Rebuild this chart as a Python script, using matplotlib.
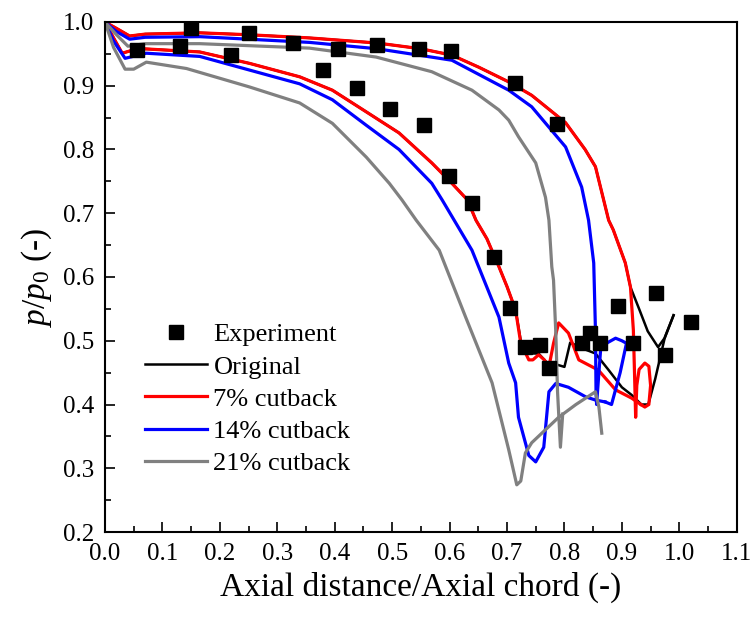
import numpy as np
import matplotlib
matplotlib.use("Agg")
import matplotlib.pyplot as plt
from matplotlib.ticker import MultipleLocator, FormatStrFormatter

plt.rcParams['font.family'] = ['Liberation Serif', 'DejaVu Serif']
plt.rcParams['mathtext.fontset'] = 'custom'
plt.rcParams['mathtext.rm'] = 'Liberation Serif'
plt.rcParams['mathtext.it'] = 'Liberation Serif:italic'

# Experiment (squares)
exp_x = [0.055, 0.13, 0.149, 0.22, 0.25, 0.327, 0.38, 0.405, 0.438, 0.474, 0.496,
         0.547, 0.556, 0.599, 0.603, 0.639, 0.677, 0.706, 0.714, 0.732, 0.758,
         0.773, 0.787, 0.83, 0.845, 0.862, 0.893, 0.92, 0.96, 0.975, 1.02]
exp_y = [0.956, 0.962, 0.991, 0.948, 0.983, 0.967, 0.925, 0.958, 0.896, 0.964, 0.863,
         0.958, 0.838, 0.758, 0.955, 0.716, 0.631, 0.551, 0.904, 0.49, 0.493,
         0.457, 0.84, 0.497, 0.512, 0.497, 0.555, 0.497, 0.575, 0.478, 0.53]

# Original (black) - pressure side incl. trailing edge, then suction side
orig_up_x = [0.0, 0.02, 0.043, 0.07, 0.165, 0.25, 0.356, 0.474, 0.55, 0.604, 0.651, 0.703,
             0.743, 0.802, 0.836, 0.854, 0.877, 0.885, 0.906, 0.915, 0.93, 0.945, 0.963,
             0.975, 0.99]
orig_up_y = [1.0, 0.99, 0.978, 0.981, 0.983, 0.98, 0.975, 0.967, 0.958, 0.948, 0.929, 0.906,
             0.885, 0.842, 0.80, 0.773, 0.689, 0.674, 0.622, 0.584, 0.55, 0.515, 0.49,
             0.505, 0.54]
orig_lo_x = [0.0, 0.015, 0.03, 0.045, 0.066, 0.165, 0.252, 0.339, 0.396, 0.455, 0.512, 0.569,
             0.604, 0.631, 0.646, 0.665, 0.686, 0.70, 0.715, 0.724, 0.738, 0.755, 0.77,
             0.785, 0.80, 0.81, 0.837, 0.854, 0.877, 0.90, 0.917, 0.934, 0.946, 0.958,
             0.975, 0.99]
orig_lo_y = [1.0, 0.975, 0.951, 0.955, 0.958, 0.953, 0.935, 0.914, 0.893, 0.859, 0.826, 0.779,
             0.747, 0.721, 0.689, 0.66, 0.616, 0.585, 0.548, 0.50, 0.48, 0.48, 0.465,
             0.463, 0.459, 0.497, 0.486, 0.48, 0.454, 0.427, 0.415, 0.40, 0.40, 0.44,
             0.506, 0.54]

# 7% cutback (red)
c7_up_x = [0.0, 0.02, 0.043, 0.07, 0.165, 0.25, 0.356, 0.474, 0.55, 0.604, 0.651, 0.703,
           0.743, 0.802, 0.836, 0.854, 0.877, 0.885, 0.906, 0.915, 0.92, 0.922, 0.924,
           0.926, 0.93, 0.94, 0.947, 0.95, 0.947, 0.94, 0.933]
c7_up_y = [1.0, 0.99, 0.978, 0.981, 0.983, 0.98, 0.975, 0.967, 0.958, 0.948, 0.929, 0.906,
           0.885, 0.842, 0.80, 0.773, 0.689, 0.674, 0.622, 0.584, 0.517, 0.45, 0.38,
           0.43, 0.455, 0.465, 0.46, 0.43, 0.40, 0.396, 0.40]
c7_lo_x = [0.0, 0.015, 0.03, 0.045, 0.066, 0.165, 0.252, 0.339, 0.396, 0.455, 0.512, 0.569,
           0.604, 0.631, 0.646, 0.665, 0.686, 0.70, 0.715, 0.724, 0.73, 0.738, 0.745, 0.755,
           0.765, 0.773, 0.781, 0.79, 0.807, 0.825, 0.859, 0.889, 0.917, 0.933]
c7_lo_y = [1.0, 0.975, 0.951, 0.955, 0.958, 0.953, 0.935, 0.914, 0.893, 0.859, 0.826, 0.779,
           0.747, 0.721, 0.689, 0.66, 0.616, 0.585, 0.548, 0.496, 0.485, 0.47, 0.47, 0.478,
           0.47, 0.459, 0.496, 0.528, 0.512, 0.47, 0.454, 0.423, 0.41, 0.40]

# 14% cutback (blue)
c14_up_x = [0.0, 0.02, 0.043, 0.07, 0.165, 0.356, 0.474, 0.604, 0.703, 0.743, 0.802, 0.83,
            0.842, 0.851, 0.854, 0.855, 0.856, 0.86, 0.863, 0.875, 0.889, 0.9, 0.908,
            0.897, 0.882, 0.871]
c14_up_y = [1.0, 0.985, 0.973, 0.976, 0.977, 0.968, 0.958, 0.94, 0.893, 0.867, 0.804, 0.741,
            0.689, 0.622, 0.517, 0.42, 0.40, 0.45, 0.486, 0.497, 0.504, 0.50, 0.496,
            0.45, 0.40, 0.404]
c14_lo_x = [0.0, 0.015, 0.035, 0.072, 0.165, 0.339, 0.396, 0.455, 0.512, 0.569, 0.587,
            0.639, 0.686, 0.703, 0.715, 0.72, 0.738, 0.75, 0.764, 0.773, 0.785, 0.807,
            0.837, 0.854, 0.871]
c14_lo_y = [1.0, 0.97, 0.943, 0.951, 0.946, 0.903, 0.878, 0.838, 0.80, 0.747, 0.721,
            0.642, 0.537, 0.465, 0.434, 0.38, 0.32, 0.31, 0.333, 0.42, 0.433, 0.427,
            0.412, 0.407, 0.404]

# 21% cutback (gray)
c21_up_x = [0.0, 0.02, 0.04, 0.07, 0.165, 0.356, 0.472, 0.569, 0.639, 0.686, 0.703, 0.72,
            0.75, 0.767, 0.773, 0.778, 0.781, 0.785, 0.788, 0.793, 0.797]
c21_up_y = [1.0, 0.98, 0.962, 0.966, 0.966, 0.959, 0.945, 0.922, 0.893, 0.862, 0.846, 0.82,
            0.779, 0.725, 0.689, 0.616, 0.595, 0.512, 0.42, 0.333, 0.385]
c21_lo_x = [0.0, 0.015, 0.035, 0.05, 0.072, 0.142, 0.252, 0.339, 0.396, 0.455, 0.495,
            0.517, 0.542, 0.582, 0.628, 0.674, 0.703, 0.717, 0.724, 0.732, 0.743, 0.79,
            0.82, 0.854, 0.86, 0.865]
c21_lo_y = [1.0, 0.96, 0.926, 0.926, 0.937, 0.927, 0.898, 0.873, 0.841, 0.788, 0.747,
            0.721, 0.689, 0.642, 0.537, 0.434, 0.329, 0.274, 0.28, 0.324, 0.34, 0.38,
            0.40, 0.42, 0.396, 0.355]

fig = plt.figure(figsize=(7.53, 6.21), dpi=100)
ax = fig.add_axes([0.1394, 0.1433, 0.8390, 0.8213])

series = [
    ("Original", "black", 1.8, orig_up_x, orig_up_y, orig_lo_x, orig_lo_y),
    ("7% cutback", "#ff0000", 2.3, c7_up_x, c7_up_y, c7_lo_x, c7_lo_y),
    ("14% cutback", "#0000ff", 2.3, c14_up_x, c14_up_y, c14_lo_x, c14_lo_y),
    ("21% cutback", "#808080", 2.3, c21_up_x, c21_up_y, c21_lo_x, c21_lo_y),
]

h_exp, = ax.plot(exp_x, exp_y, ls='none', marker='s', ms=10, color='black',
                 zorder=5, label='Experiment')
handles = [h_exp]
for name, col, lw, ux, uy, lx, ly in series:
    h, = ax.plot(ux, uy, color=col, lw=lw, label=name, zorder=2)
    ax.plot(lx, ly, color=col, lw=lw, zorder=2)
    handles.append(h)

ax.set_xlim(0.0, 1.1)
ax.set_ylim(0.2, 1.0)
ax.xaxis.set_major_locator(MultipleLocator(0.1))
ax.xaxis.set_minor_locator(MultipleLocator(0.05))
ax.yaxis.set_major_locator(MultipleLocator(0.1))
ax.yaxis.set_minor_locator(MultipleLocator(0.05))
ax.xaxis.set_major_formatter(FormatStrFormatter('%.1f'))
ax.yaxis.set_major_formatter(FormatStrFormatter('%.1f'))
ax.tick_params(which='both', direction='in', top=False, right=False,
               labelsize=18, width=1.2)
ax.tick_params(which='major', length=7, pad=8)
ax.tick_params(which='minor', length=4)
for sp in ax.spines.values():
    sp.set_linewidth(1.5)

ax.set_xlabel('Axial distance/Axial chord (-)', fontsize=24, labelpad=5)
ax.set_ylabel(r'$p/p_0$ (-)', fontsize=24, labelpad=6)

ax.legend(handles=handles, loc='upper left', bbox_to_anchor=(0.063, 0.41),
          frameon=False, fontsize=19, borderpad=0, handlelength=2.35,
          handletextpad=0.25, labelspacing=0.33, borderaxespad=0)

fig.savefig('out.png', dpi=100)
